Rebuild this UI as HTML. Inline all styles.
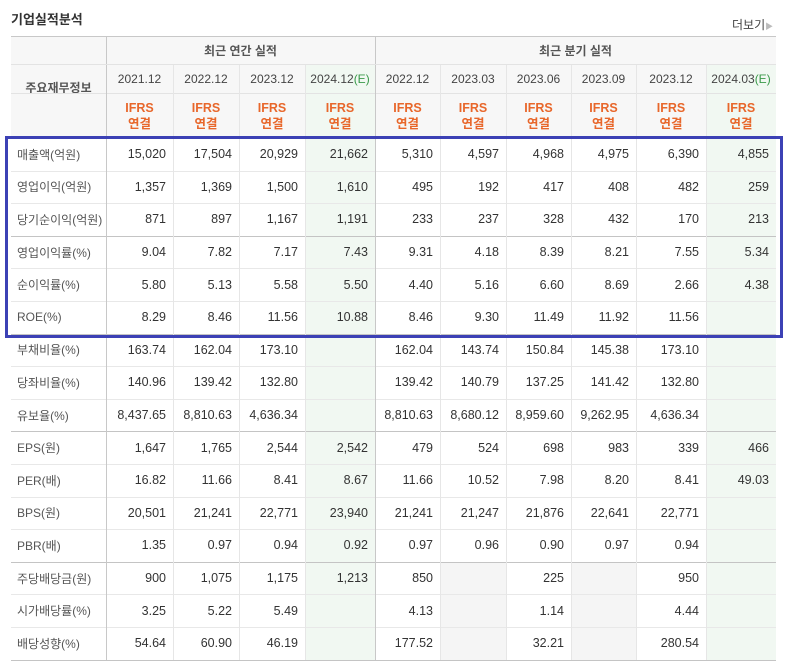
<!DOCTYPE html>
<html><head><meta charset="utf-8">
<style>
body{margin:0;width:785px;height:666px;background:#fff;position:relative;overflow:hidden;font-family:"Liberation Sans","Noto Sans CJK KR",sans-serif;}
.c{position:absolute;box-sizing:border-box;font-size:12.5px;color:#333;display:flex;align-items:center;}
.num{justify-content:flex-end;padding-right:7px;}
.lab{padding-left:6px;color:#555;font-size:12px;}
.hd{justify-content:center;color:#444;font-size:12px;}
.hl{position:absolute;height:1px;background:#e6e6e6;}
.vl{position:absolute;width:1px;background:#e3e3e3;}
</style></head><body>
<div style="position:absolute;left:11px;top:9px;font-size:13px;font-weight:bold;color:#333;">기업실적분석</div>
<div style="position:absolute;left:732px;top:16px;font-size:12px;color:#444;">더보기<span style="color:#bbb;font-size:8px;">▶</span></div>
<div id="t"></div>
<script>
const annualPeriods=["2021.12","2022.12","2023.12","2024.12"];
const quarterPeriods=["2022.12","2023.03","2023.06","2023.09","2023.12","2024.03"];
const rowLabels=["매출액(억원)","영업이익(억원)","당기순이익(억원)","영업이익률(%)","순이익률(%)","ROE(%)","부채비율(%)","당좌비율(%)","유보율(%)","EPS(원)","PER(배)","BPS(원)","PBR(배)","주당배당금(원)","시가배당률(%)","배당성향(%)"];
const values=[
["15,020","17,504","20,929","21,662","5,310","4,597","4,968","4,975","6,390","4,855"],
["1,357","1,369","1,500","1,610","495","192","417","408","482","259"],
["871","897","1,167","1,191","233","237","328","432","170","213"],
["9.04","7.82","7.17","7.43","9.31","4.18","8.39","8.21","7.55","5.34"],
["5.80","5.13","5.58","5.50","4.40","5.16","6.60","8.69","2.66","4.38"],
["8.29","8.46","11.56","10.88","8.46","9.30","11.49","11.92","11.56",""],
["163.74","162.04","173.10","","162.04","143.74","150.84","145.38","173.10",""],
["140.96","139.42","132.80","","139.42","140.79","137.25","141.42","132.80",""],
["8,437.65","8,810.63","4,636.34","","8,810.63","8,680.12","8,959.60","9,262.95","4,636.34",""],
["1,647","1,765","2,544","2,542","479","524","698","983","339","466"],
["16.82","11.66","8.41","8.67","11.66","10.52","7.98","8.20","8.41","49.03"],
["20,501","21,241","22,771","23,940","21,241","21,247","21,876","22,641","22,771",""],
["1.35","0.97","0.94","0.92","0.97","0.96","0.90","0.97","0.94",""],
["900","1,075","1,175","1,213","850",null,"225",null,"950",""],
["3.25","5.22","5.49","","4.13",null,"1.14",null,"4.44",""],
["54.64","60.90","46.19","","177.52",null,"32.21",null,"280.54",""]
];
const X=[11,106,173,239,305,375,440,506,571,636,706,776];
const T=document.getElementById('t');
const Y0=138,RH=32.6,BOT=Y0+RH*16;
function div(cls,l,t,w,h,html,bg){const d=document.createElement('div');d.className=cls;d.style.left=l+'px';d.style.top=t+'px';d.style.width=w+'px';d.style.height=h+'px';if(html!==undefined)d.innerHTML=html;if(bg)d.style.background=bg;T.appendChild(d);return d;}
// header backgrounds
let e=div('c',11,36,765,102,'','#f7f7f7');


e=div('c',305,64,70,BOT-64,'','#f1f8f2');


e=div('c',706,64,70,BOT-64,'','#f1f8f2');


e=div('c hd',11,36,95,102,'<b style="color:#555">주요재무정보</b>');


e=div('c hd',106,36,269,28,'<b style="color:#555">최근 연간 실적</b>');


e=div('c hd',375,36,401,28,'<b style="color:#555">최근 분기 실적</b>');


const periods=annualPeriods.concat(quarterPeriods);
periods.forEach((p,i)=>{
 const est=(i===3||i===9);
 let h=div('c hd',X[i+1],64,X[i+2]-X[i+1],29,p+(est?'<span style="color:#3a9a4a">(E)</span>':''));
 
 
 let f=div('c hd',X[i+1],93,X[i+2]-X[i+1],45,'<span style="color:#e8672b;font-weight:bold;text-align:center;line-height:16px;font-size:12.5px">IFRS<br>연결</span>');
 
 
});
rowLabels.forEach((lab,r)=>{
 const y=Y0+RH*r;
 let l=div('c lab',11,y,95,RH,lab);
 
 
 values[r].forEach((v,i)=>{
  let c=div('c num',X[i+1],y,X[i+2]-X[i+1],RH,v===null?'':v,v===null?'#f5f5f5':null);
  
  
 });
});
// grid lines
function hl(y,col){const d=div('hl',11,y,765,1);if(col)d.style.background=col;}
hl(36,'#c8c8c8');hl(64,'#e3e3e3');hl(93,'#e3e3e3');
for(let r=0;r<=16;r++){const y=Math.round(Y0+RH*r);hl(y,[0,3,6,9,13,16].includes(r)?'#c4c4c4':'#e8e8e8');}
X.slice(1,-1).forEach((x,i)=>{const top=(x===106||x===375)?36:64;const d=div('vl',x,top,1,BOT-top);d.style.background=(x===106||x===375)?'#c8c8c8':'#e6e6e6';});
const hb=div('c',106,64,670,1,'','#e3e3e3');
// highlight box
let b=div('c',5,136,778,202,'');
b.style.border='3px solid #3c41b5';b.style.background='transparent';


</script>
</body></html>
